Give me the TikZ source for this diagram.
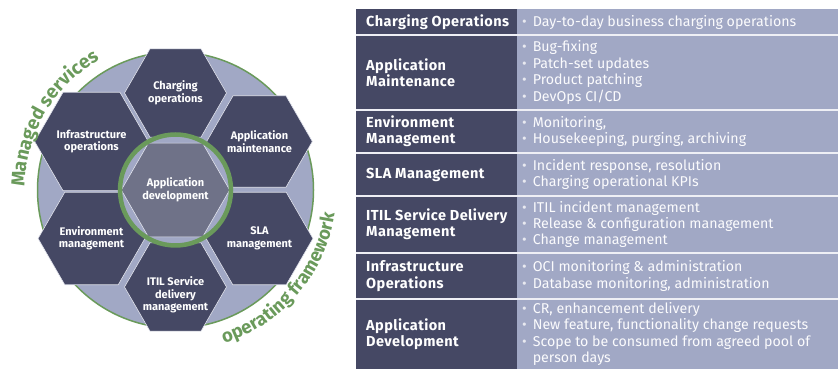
\documentclass[tikz,border=0pt]{standalone}
\usepackage{fontspec}
\setmainfont{Fira Sans}
\usetikzlibrary{shapes.geometric,decorations.text,positioning}

\definecolor{navy}{HTML}{454864}
\definecolor{lavender}{HTML}{A1A8C5}
\definecolor{slate}{HTML}{6F7288}
\definecolor{leaf}{HTML}{6A9A5B}

\newcommand{\itm}{{\color{white!75!lavender}\textbullet}\hspace{6pt}}

\tikzset{
  hexa/.style={regular polygon, regular polygon sides=6, minimum size=102pt,
    inner sep=0pt, fill=navy, draw=white!70!lavender, line width=0.6pt,
    text=white, align=center, font=\bfseries\fontsize{11}{12.5}\selectfont},
  hexlabel/.style={text=white, align=center, inner sep=0pt,
    font=\bfseries\fontsize{11}{12.5}\selectfont},
  head/.style={anchor=west, align=left, inner sep=0pt, text=white,
    font=\bfseries\fontsize{14.5}{16.4}\selectfont\addfontfeatures{LetterSpace=3}},
  items/.style={anchor=west, align=left, inner sep=0pt, text=white!96!lavender,
    font=\fontsize{14.2}{16.4}\selectfont},
  rule/.style={white!82!lavender, line width=1.2pt}
}

\begin{document}
\begin{tikzpicture}[x=1pt,y=1pt]
  \useasboundingbox (0,0) rectangle (838,369);

%%%%%%%%%%%%%%%%%%%%%%%%%%%%%%%%%%%%%%%%%%
  % Service wheel
  \begin{scope}[shift={(175.5,179)}]
    \coordinate (hub) at (0,0);

    % Backdrop disc
    \draw[fill=lavender, draw=leaf, line width=1.5pt] (hub) circle[radius=138];

    % Outer hexagons
    \node[hexa] (charging) at (90:97)  {Charging\\operations};
    \node[hexa] (appMaint) at (30:97)  {Application\\maintenance};
    \node[hexa] (sla)      at (-30:97) {SLA\\management};
    \node[hexa] (itil)     at (-90:97) {};
    \node[hexa] (envMgmt)  at (210:97) {Environment\\management};
    \node[hexa] (infraOps) at (150:97) {Infrastructure\\operations};
    \node[hexlabel] (itilText) at ([yshift=-8pt]itil.center)
      {ITIL Service\\delivery\\management};

    % Core hexagon and its ring
    \fill[lavender] (hub) circle[radius=55];
    \node[hexa, fill=slate, minimum size=105pt] (appDev) at (hub)
      {Application\\development};
    \draw[leaf, line width=4.5pt] (hub) circle[radius=55.5];

    % Curved captions
    \path[decorate, decoration={text along path, text align=center,
      text={|\bfseries\fontsize{19}{19}\selectfont\color{leaf}|Managed services}}]
      (185:151) arc[start angle=185, end angle=114, radius=151];
    \path[decorate, decoration={text along path, text align=center,
      text={|\bfseries\fontsize{18.5}{19}\selectfont\color{leaf}|operating framework}}]
      (-78:161) arc[start angle=-78, end angle=-3, radius=161];
  \end{scope}

%%%%%%%%%%%%%%%%%%%%%%%%%%%%%%%%%%%%%%%%%%
  % Scope table
  \begin{scope}
    % Column fills
    \fill[navy] (356,0) rectangle (517,360);
    \fill[lavender] (517,0) rectangle (838,360);

    % Row rules
    \foreach \y in {334,259,216,173,116,70}
      \draw[rule] (356,\y) -- (838,\y);

    % Row headings
    \node[head] (hCharging) at (366,347)   {Charging Operations};
    \node[head] (hAppMaint) at (366,296.5) {Application\\Maintenance};
    \node[head] (hEnvMgmt)  at (366,237.5) {Environment\\Management};
    \node[head] (hSla)      at (366,194.5) {SLA Management};
    \node[head] (hItil)     at (366,144.5) {ITIL Service Delivery\\Management};
    \node[head] (hInfraOps) at (366,93)    {Infrastructure\\Operations};
    \node[head] (hAppDev)   at (366,35)    {Application\\Development};

    % Row items
    \node[items] (iCharging) at (522,347)
      {\itm Day-to-day business charging operations};
    \node[items] (iAppMaint) at (522,296.5)
      {\itm Bug-fixing\\\itm Patch-set updates\\\itm Product patching\\\itm DevOps CI/CD};
    \node[items] (iEnvMgmt) at (522,237.5)
      {\itm Monitoring,\\\itm Housekeeping, purging, archiving};
    \node[items] (iSla) at (522,194.5)
      {\itm Incident response, resolution\\\itm Charging operational KPIs};
    \node[items] (iItil) at (522,144.5)
      {\itm ITIL incident management\\\itm Release \& configuration management\\\itm Change management};
    \node[items] (iInfraOps) at (522,93)
      {\itm OCI monitoring \& administration\\\itm Database monitoring, administration};
    \node[items] (iAppDev) at (522,35)
      {\itm CR, enhancement delivery\\\itm New feature, functionality change requests\\\itm Scope to be consumed from agreed pool of\\\hphantom{\itm}person days};
  \end{scope}

\end{tikzpicture}
\end{document}
